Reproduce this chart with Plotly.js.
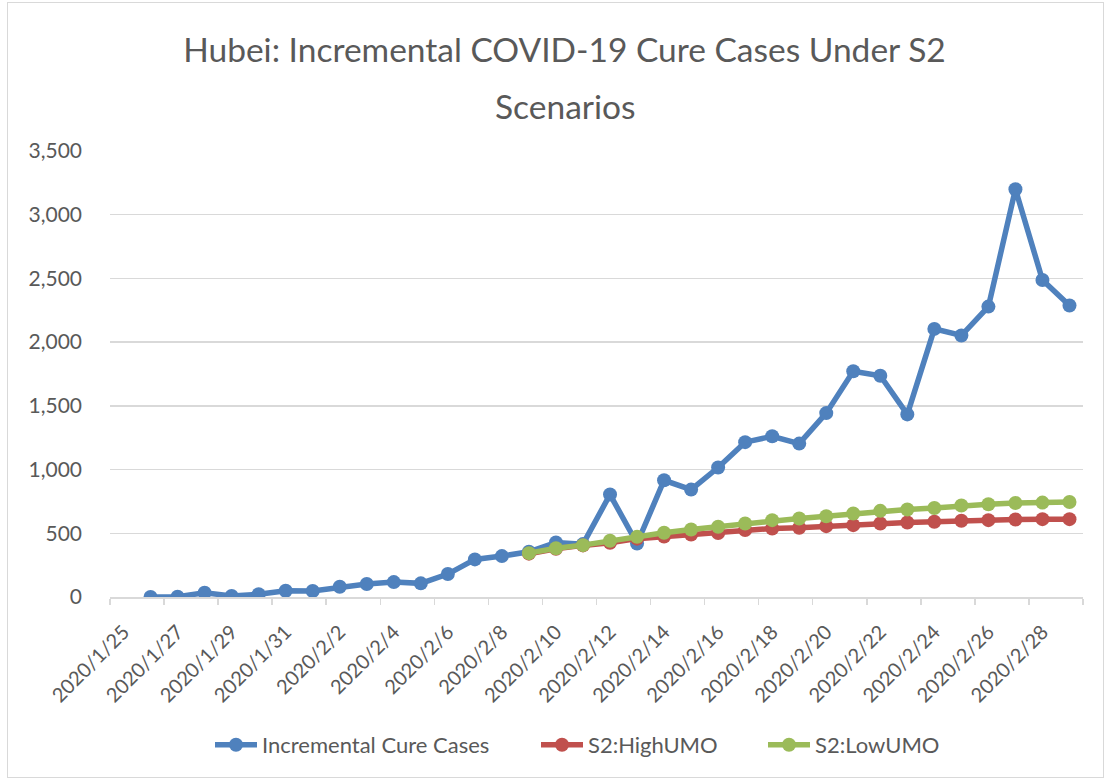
<!DOCTYPE html>
<html>
<head>
<meta charset="utf-8">
<script src="https://cdn.plot.ly/plotly-3.0.1.min.js"></script>
<style>
  html, body { margin: 0; padding: 0; background: #ffffff; }
  #chart { width: 1109px; height: 780px; box-sizing: border-box; }
  #frame { position: absolute; left: 7px; top: 2px; width: 1097px; height: 776px; border: 1px solid #d9d9d9; box-sizing: border-box; pointer-events: none; }
</style>
</head>
<body>
<div id="chart"></div>
<div id="frame"></div>
<script>
// ---- data ----
const dates = [
  "2020-01-26","2020-01-27","2020-01-28","2020-01-29","2020-01-30","2020-01-31",
  "2020-02-01","2020-02-02","2020-02-03","2020-02-04","2020-02-05","2020-02-06",
  "2020-02-07","2020-02-08","2020-02-09","2020-02-10","2020-02-11","2020-02-12",
  "2020-02-13","2020-02-14","2020-02-15","2020-02-16","2020-02-17","2020-02-18",
  "2020-02-19","2020-02-20","2020-02-21","2020-02-22","2020-02-23","2020-02-24",
  "2020-02-25","2020-02-26","2020-02-27","2020-02-28","2020-02-29"
];
const incrementalCure = [
  0, 2, 33, 8, 21, 49,
  47, 80, 102, 117, 107, 180,
  295, 321, 355, 428, 415, 804,
  420, 916, 843, 1016, 1215, 1261,
  1204, 1443, 1772, 1736, 1433, 2104,
  2052, 2279, 3200, 2488, 2287
];
const scenarioDates = dates.slice(14);
const highUMO = [
  340, 378, 405, 425, 458, 475, 490, 502, 525, 538,
  543, 556, 564, 577, 585, 590, 598, 603, 608, 611, 611
];
const lowUMO = [
  344, 383, 407, 441, 472, 504, 530, 551, 577, 603,
  616, 634, 655, 676, 687, 699, 718, 728, 738, 741, 746
];
const tickVals = [
  "2020-01-25","2020-01-27","2020-01-29","2020-01-31","2020-02-02","2020-02-04",
  "2020-02-06","2020-02-08","2020-02-10","2020-02-12","2020-02-14","2020-02-16",
  "2020-02-18","2020-02-20","2020-02-22","2020-02-24","2020-02-26","2020-02-28"
];
const tickText = [
  "2020/1/25","2020/1/27","2020/1/29","2020/1/31","2020/2/2","2020/2/4",
  "2020/2/6","2020/2/8","2020/2/10","2020/2/12","2020/2/14","2020/2/16",
  "2020/2/18","2020/2/20","2020/2/22","2020/2/24","2020/2/26","2020/2/28"
];
const yTickVals = [0, 500, 1000, 1500, 2000, 2500, 3000, 3500];
const seriesNames = ["Incremental Cure Cases", "S2:HighUMO", "S2:LowUMO"];
const titleLines = ["Hubei: Incremental COVID-19 Cure Cases Under S2", "Scenarios"];

// ---- chart ----
const FONT = "Lato, 'Open Sans', sans-serif";
const GREY = "#595959";
const PL = 110, PW = 973, PB = 597, PH = 446;

function series(x, y, name, color, legendId) {
  return {
    type: "scatter", mode: "lines+markers", x: x, y: y, name: name,
    legend: legendId,
    line: { color: color, width: 5.5 },
    marker: { color: color, size: 14 }
  };
}

const traces = [
  series(dates, incrementalCure, seriesNames[0], "#4f81bd", "legend"),
  series(scenarioDates, highUMO, seriesNames[1], "#c0504d", "legend2"),
  series(scenarioDates, lowUMO, seriesNames[2], "#9bbb59", "legend3")
];

function legendAt(px) {
  return {
    orientation: "h", x: (px - PL) / PW, xanchor: "left",
    y: (PB - 745) / PH, yanchor: "middle",
    font: { family: FONT, size: 22, color: GREY },
    itemwidth: 42, borderwidth: 0, bgcolor: "rgba(0,0,0,0)"
  };
}

const layout = {
  width: 1109, height: 780,
  margin: { l: PL, r: 26, t: 151, b: 183 },
  paper_bgcolor: "#ffffff", plot_bgcolor: "#ffffff",
  font: { family: FONT, color: GREY },
  title: {
    text: titleLines[0],
    font: { family: FONT, size: 33.5, color: GREY },
    x: 0.509, xanchor: "center",
    y: 1 - 50 / 780, yref: "container", yanchor: "middle"
  },
  annotations: [{
    text: titleLines[1], showarrow: false,
    xref: "paper", yref: "paper", x: (565 - PL) / PW, xanchor: "center",
    y: (PB - 106) / PH, yanchor: "middle",
    font: { family: FONT, size: 33.5, color: GREY }
  }],
  xaxis: {
    type: "date",
    range: ["2020-01-24 12:00", "2020-02-29 12:00"],
    tickmode: "array", tickvals: tickVals, ticktext: tickText,
    tickangle: -45, ticks: "", ticklen: 0, ticklabelstandoff: 14,
    tickfont: { family: FONT, size: 20, color: GREY },
    showgrid: false, zeroline: false,
    showline: true, linecolor: "#d9d9d9", linewidth: 1.5,
    minor: {
      tick0: "2020-01-24 12:00", dtick: 2 * 86400000,
      ticks: "outside", ticklen: 6, tickcolor: "#d9d9d9", tickwidth: 1.5,
      showgrid: false
    },
    fixedrange: true
  },
  yaxis: {
    range: [0, 3500], tickmode: "array", tickvals: yTickVals,
    tickformat: ",d",
    tickfont: { family: FONT, size: 21, color: GREY },
    showgrid: true, gridcolor: "#d9d9d9", gridwidth: 1.5,
    zeroline: false, showline: false, ticks: "", ticklabelstandoff: 27,
    fixedrange: true
  },
  showlegend: true,
  legend: legendAt(210),
  legend2: legendAt(536),
  legend3: legendAt(763)
};

Plotly.newPlot("chart", traces, layout, { displayModeBar: false, staticPlot: true });
</script>
</body>
</html>
